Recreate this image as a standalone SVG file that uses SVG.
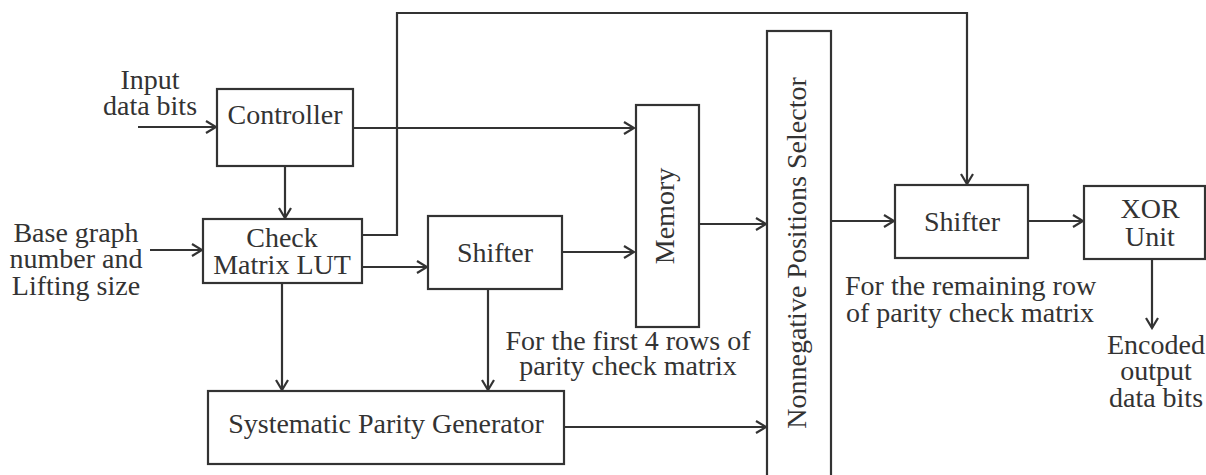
<svg xmlns="http://www.w3.org/2000/svg" width="1206" height="475" viewBox="0 0 1206 475">
<defs>
<style>
.box{fill:#fff;stroke:#333;stroke-width:2.2}
.ln{fill:none;stroke:#333;stroke-width:2.2}
.ar{marker-end:url(#ah)}
text{font-family:"Liberation Serif","Times New Roman",serif;font-size:28px;fill:#333}
.c{text-anchor:middle}
</style>
<marker id="ah" markerUnits="userSpaceOnUse" markerWidth="14" markerHeight="16" viewBox="0 0 14 16" refX="12" refY="8" orient="auto">
<path d="M2,2 L12,8 L2,14" fill="none" stroke="#333" stroke-width="2.2"/>
</marker>
</defs>
<rect width="1206" height="475" fill="#fff"/>
<g id="connectors">
<path class="ln ar" d="M138,127 H216"/>
<path class="ln ar" d="M150,250 H202"/>
<path class="ln ar" d="M285,166 V218"/>
<path class="ln ar" d="M353,128 H634"/>
<path class="ln ar" d="M362,267 H427"/>
<path class="ln ar" d="M562,252 H634"/>
<path class="ln ar" d="M362,235 H397 V13 H967 V184"/>
<path class="ln ar" d="M282,283 V390"/>
<path class="ln ar" d="M488,289 V390"/>
<path class="ln ar" d="M564,427 H766"/>
<path class="ln ar" d="M698,224 H766"/>
<path class="ln ar" d="M831,221 H894"/>
<path class="ln ar" d="M1028,221 H1083"/>
<path class="ln ar" d="M1152,259 V328"/>
</g>
<g id="input-label">
<text class="c" x="150" y="89">Input</text>
<text class="c" x="150" y="115">data bits</text>
</g>
<g id="base-label">
<text class="c" x="76" y="242">Base graph</text>
<text class="c" x="76" y="268">number and</text>
<text class="c" x="76" y="295">Lifting size</text>
</g>
<g id="controller">
<rect class="box" x="217" y="89" width="136" height="77"/>
<text class="c" x="285" y="124">Controller</text>
</g>
<g id="check-lut">
<rect class="box" x="203" y="219" width="159" height="64"/>
<text class="c" x="282" y="247">Check</text>
<text class="c" x="282" y="274">Matrix LUT</text>
</g>
<g id="shifter1">
<rect class="box" x="428" y="216" width="134" height="73"/>
<text class="c" x="495" y="262">Shifter</text>
</g>
<g id="memory">
<rect class="box" x="636" y="105" width="63" height="222"/>
<text class="c" transform="translate(674,216) rotate(-90)">Memory</text>
</g>
<g id="first-rows-label">
<text class="c" x="628" y="350">For the first 4 rows of</text>
<text class="c" x="628" y="375">parity check matrix</text>
</g>
<g id="systematic">
<rect class="box" x="208" y="391" width="356" height="73"/>
<text class="c" x="386" y="433">Systematic Parity Generator</text>
</g>
<g id="nonneg">
<rect class="box" x="767" y="31" width="64" height="460"/>
<text class="c" transform="translate(806,253) rotate(-90)">Nonnegative Positions Selector</text>
</g>
<g id="shifter2">
<rect class="box" x="895" y="185" width="133" height="73"/>
<text class="c" x="962" y="231">Shifter</text>
</g>
<g id="remaining-label">
<text x="845" y="295">For the remaining row</text>
<text x="846" y="322">of parity check matrix</text>
</g>
<g id="xor">
<rect class="box" x="1084" y="186" width="121" height="73"/>
<text class="c" x="1150" y="218">XOR</text>
<text class="c" x="1150" y="246">Unit</text>
</g>
<g id="output-label">
<text class="c" x="1156" y="354">Encoded</text>
<text class="c" x="1156" y="380">output</text>
<text class="c" x="1156" y="407">data bits</text>
</g>
</svg>
